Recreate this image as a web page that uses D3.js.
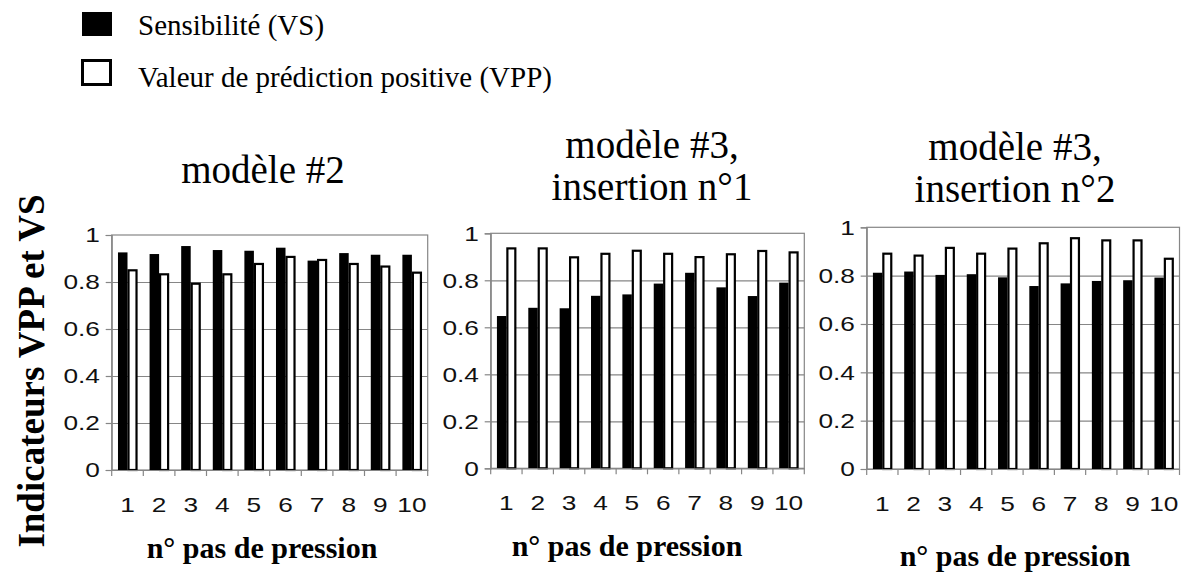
<!DOCTYPE html>
<html><head><meta charset="utf-8">
<script src="https://cdn.jsdelivr.net/npm/d3@7"></script>
<style>body{margin:0;background:#fff}svg{display:block}</style>
</head><body>
<svg id="c" width="1181" height="574"></svg>
<script>
const categories = ["1","2","3","4","5","6","7","8","9","10"];
const yTicks = [0,0.2,0.4,0.6,0.8,1];
const seriesNames = ["Sensibilité (VS)","Valeur de prédiction positive (VPP)"];
const panelTitles = [["modèle #2"],["modèle #3,","insertion n°1"],["modèle #3,","insertion n°2"]];
const xTitle = "n° pas de pression";
const yTitle = "Indicateurs VPP et VS";
const vs1  = [0.926,0.919,0.953,0.936,0.933,0.946,0.891,0.923,0.916,0.916];
const vpp1 = [0.854,0.837,0.797,0.837,0.881,0.911,0.898,0.881,0.870,0.844];
const vs2  = [0.648,0.683,0.681,0.734,0.740,0.786,0.832,0.770,0.733,0.790];
const vpp2 = [0.940,0.940,0.902,0.917,0.930,0.917,0.903,0.915,0.929,0.923];
const vs3  = [0.812,0.817,0.803,0.806,0.793,0.757,0.768,0.778,0.781,0.792];
const vpp3 = [0.895,0.887,0.919,0.895,0.916,0.938,0.959,0.950,0.950,0.874];

const svg = d3.select("#c");
const serif = "'Liberation Serif','Times New Roman',serif";
const sans = "'Liberation Sans',Arial,sans-serif";
const grey = "#868686";
const SX = 1.25;

const panels = [
  {x0:111.7,x1:427.7,y0:235,y1:470, vs:vs1, vpp:vpp1, tx:263, tb:[183], xtx:262, xtb:558},
  {x0:490.7,x1:804.3,y0:233.3,y1:468.3, vs:vs2, vpp:vpp2, tx:652, tb:[158,200], xtx:627, xtb:556},
  {x0:866.7,x1:1179.5,y0:227.3,y1:469, vs:vs3, vpp:vpp3, tx:1015, tb:[160,202], xtx:1015, xtb:566}
];

panels.forEach((p,i)=>{
  const x = d3.scaleBand().domain(categories).range([p.x0,p.x1]).padding(0);
  const inner = d3.scaleBand().domain(["vs","vpp"]).range([0,x.bandwidth()]).paddingInner(0).paddingOuter(0.66);
  const y = d3.scaleLinear().domain([0,1]).range([p.y1,p.y0]);
  const g = svg.append("g");
  // gridlines
  g.append("g").attr("transform",`translate(${p.x0},0)`)
    .call(d3.axisLeft(y).tickValues(yTicks.slice(1,5)).tickSize(-(p.x1-p.x0)).tickFormat(""))
    .call(s=>{s.select(".domain").remove();s.selectAll("line").attr("stroke",grey).attr("stroke-width",1.2);});
  // border
  g.append("rect").attr("x",p.x0).attr("y",p.y0).attr("width",p.x1-p.x0).attr("height",p.y1-p.y0)
    .attr("fill","none").attr("stroke",grey).attr("stroke-width",1.2);
  // bars
  const rows = categories.map((c,k)=>({c, vs:p.vs[k], vpp:p.vpp[k]}));
  g.selectAll(".vs").data(rows).join("rect")
    .attr("x",d=>x(d.c)+inner("vs")).attr("width",inner.bandwidth())
    .attr("y",d=>y(d.vs)).attr("height",d=>y(0)-y(d.vs)).attr("fill","#000");
  g.selectAll(".vpp").data(rows).join("rect")
    .attr("x",d=>x(d.c)+inner("vpp")+1).attr("width",inner.bandwidth()-1.5)
    .attr("y",d=>y(d.vpp)+1).attr("height",d=>y(0)-y(d.vpp)-1)
    .attr("fill","#fff").attr("stroke","#000").attr("stroke-width",2.2);
  // y axis
  g.append("g").attr("transform",`translate(${p.x0},0)`)
    .call(d3.axisLeft(y).tickValues(yTicks).tickSize(6).tickPadding(3.4)
      .tickFormat(d=>d===0?"0":d===1?"1":d3.format(".1f")(d)))
    .call(s=>{s.select(".domain").attr("stroke",grey).attr("stroke-width",1.2);
      s.selectAll("line").attr("stroke",grey).attr("stroke-width",1.2);
      s.selectAll("text").attr("font-family",sans).attr("font-size",21).attr("fill","#111")
        .attr("transform",`scale(${SX},1)`);});
  // x axis
  g.append("g").attr("transform",`translate(0,${p.y1})`)
    .call(d3.axisBottom(x).tickSize(0).tickPadding(27))
    .call(s=>{s.select(".domain").attr("stroke",grey).attr("stroke-width",1.2);
      s.selectAll("text").attr("font-family",sans).attr("font-size",21).attr("fill","#111")
        .attr("transform",`scale(${SX},1)`);});
  const bounds = categories.map(c=>x(c)).concat([x(categories[categories.length-1])+x.bandwidth()]);
  g.selectAll(".bt").data(bounds).join("line")
    .attr("x1",d=>d).attr("x2",d=>d).attr("y1",p.y1).attr("y2",p.y1+6)
    .attr("stroke",grey).attr("stroke-width",1.2);
  // title
  panelTitles[i].forEach((t,j)=>{
    svg.append("text").attr("x",p.tx).attr("y",p.tb[j]).attr("text-anchor","middle")
      .attr("font-family",serif).attr("font-size",39).attr("fill","#000").text(t);
  });
  // x title
  svg.append("text").attr("x",p.xtx).attr("y",p.xtb).attr("text-anchor","middle")
    .attr("font-family",serif).attr("font-weight","bold").attr("font-size",30).attr("fill","#000").text(xTitle);
});

// y title
svg.append("text").attr("transform","translate(44,371) rotate(-90)").attr("text-anchor","middle")
  .attr("font-family",serif).attr("font-weight","bold").attr("font-size",37).attr("fill","#000").text(yTitle);

// legend
svg.append("rect").attr("x",82).attr("y",12).attr("width",30).attr("height",24).attr("fill","#000");
svg.append("rect").attr("x",82.5).attr("y",60.5).attr("width",28).attr("height",24).attr("fill","#fff").attr("stroke","#000").attr("stroke-width",3);
svg.append("text").attr("x",138).attr("y",35).attr("font-family",serif).attr("font-size",29).attr("fill","#000").text(seriesNames[0]);
svg.append("text").attr("x",138).attr("y",87).attr("font-family",serif).attr("font-size",29).attr("fill","#000").text(seriesNames[1]);
</script>
</body></html>
